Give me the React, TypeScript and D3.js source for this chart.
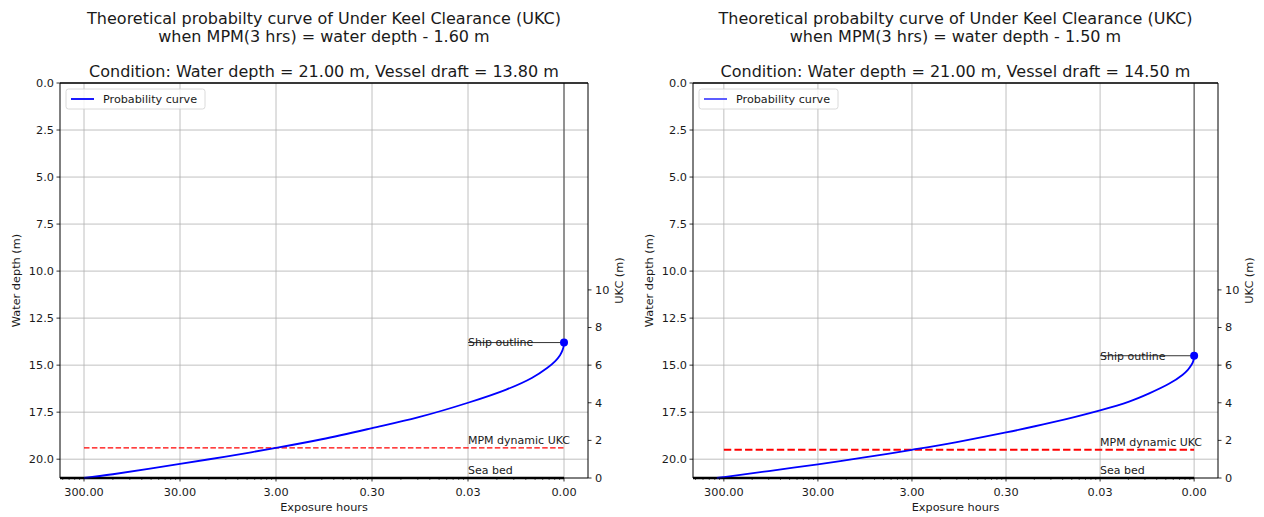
import React from "react";
import * as d3 from "d3";

// ---------- data ----------
const titleLine1 = "Theoretical probabilty curve of Under Keel Clearance (UKC)";
const waterDepths = [21.0, 21.0];
const vesselDrafts = [13.8, 14.5];
const mpmOffsets = [1.6, 1.5];

// Left panel curve (exposure hours, water depth m)
const leftExposure = [300, 150, 30, 10, 3, 1, 0.3, 0.1, 0.03, 0.012, 0.0065, 0.0045, 0.0037, 0.0033, 0.0031, 0.00302, 0.003];
const leftDepth = [21.0, 20.8, 20.25, 19.86, 19.4, 18.94, 18.35, 17.78, 17.0, 16.3, 15.68, 15.15, 14.78, 14.47, 14.19, 13.98, 13.8];

// Right panel curve
const rightExposure = [356, 300, 100, 30, 10, 3, 1, 0.3, 0.1, 0.03, 0.015, 0.009, 0.0055, 0.004, 0.0035, 0.0032, 0.0031, 0.00302, 0.003];
const rightDepth = [21.0, 20.95, 20.63, 20.27, 19.92, 19.5, 19.09, 18.58, 18.06, 17.4, 16.95, 16.5, 15.98, 15.52, 15.25, 14.98, 14.85, 14.66, 14.5];

const xTickValues = [300, 30, 3, 0.3, 0.03, 0.003];
const xTickLabels = ["300.00", "30.00", "3.00", "0.30", "0.03", "0.00"];
const depthTicks = [0, 2.5, 5, 7.5, 10, 12.5, 15, 17.5, 20];
const ukcTicks = [0, 2, 4, 6, 8, 10];
const labelExposure = 0.03;
const shipExposure = 0.003;
const mpmStartExposure = 300;

const FONT = "DejaVu Sans";
const TXT = "#1a1a1a";

type PanelProps = {
  x0: number; x1: number; y0: number; y1: number;
  exposure: number[]; depth: number[];
  water: number; draft: number; mpm: number;
  mpmWidth: number; mpmDash: string; legendColor: string;
};

function Panel(p: PanelProps) {
  const { x0, x1, y0, y1, exposure, depth, water, draft, mpm } = p;
  const lo = d3.min(exposure) as number;
  const hi = d3.max(exposure) as number;
  const m = Math.log10(hi / lo) * 0.05;
  const x = d3.scaleLog().domain([hi * 10 ** m, lo / 10 ** m]).range([x0, x1]);
  const y = d3.scaleLinear().domain([0, water]).range([y0, y1]);
  const yU = d3.scaleLinear().domain([water, 0]).range([y0, y1]);
  const [dA, dB] = x.domain();
  const inDom = (v: number) => v <= dA && v >= dB;
  const minor = [xTickValues[0] * 10, ...xTickValues]
    .flatMap((v) => d3.range(2, 10).map((k) => v / k))
    .filter(inDom);
  const pts: [number, number][] = exposure.map((e, i) => [e, depth[i]]);
  const line = d3
    .line<[number, number]>()
    .x((d) => x(d[0]))
    .y((d) => y(d[1]))
    .curve(d3.curveCatmullRom.alpha(0.5));
  const cx = (x0 + x1) / 2;
  const cy = (y0 + y1) / 2;
  const mpmDepth = water - mpm;
  const xs = x(shipExposure);
  const xl = x(labelExposure);
  return (
    <g fontFamily={FONT}>
      {/* titles */}
      <text x={cx} y={23.5} textAnchor="middle" fontSize={16} fill={TXT}>{titleLine1}</text>
      <text x={cx} y={42} textAnchor="middle" fontSize={16} fill={TXT}>
        {`when MPM(3 hrs) = water depth - ${mpm.toFixed(2)} m`}
      </text>
      <text x={cx} y={77} textAnchor="middle" fontSize={16} fill={TXT}>
        {`Condition: Water depth = ${water.toFixed(2)} m, Vessel draft = ${draft.toFixed(2)} m`}
      </text>
      {/* grid */}
      {xTickValues.map((v, i) => (
        <line key={"gx" + i} x1={x(v)} x2={x(v)} y1={y0} y2={y1} stroke="#b0b0b0" strokeWidth={0.8} />
      ))}
      {depthTicks.map((v, i) => (
        <line key={"gy" + i} x1={x0} x2={x1} y1={y(v)} y2={y(v)} stroke="#b0b0b0" strokeWidth={0.8} />
      ))}
      {/* MPM dashed */}
      <line x1={x(mpmStartExposure)} x2={xs} y1={y(mpmDepth)} y2={y(mpmDepth)} stroke="#ff0000" strokeWidth={p.mpmWidth} strokeDasharray={p.mpmDash} />
      {/* ship outline */}
      <line x1={xs} x2={xs} y1={y(0)} y2={y(draft)} stroke="#444" strokeWidth={1} />
      <line x1={xl} x2={xs} y1={y(draft)} y2={y(draft)} stroke="#333" strokeWidth={1} />
      {/* sea bed */}
      <line x1={x0} x2={xs} y1={y(water)} y2={y(water)} stroke="#000" strokeWidth={2.6} />
      {/* curve */}
      <path d={line(pts) as string} fill="none" stroke="#0000ff" strokeWidth={1.8} />
      <circle cx={xs} cy={y(draft)} r={4} fill="#0000ff" />
      {/* annotations */}
      <text x={xl} y={y(draft)} dy="0.35em" fontSize={11} fill={TXT}>Ship outline</text>
      <text x={xl} y={y(mpmDepth) - 4} fontSize={11} fill={TXT}>MPM dynamic UKC</text>
      <text x={xl} y={y(water) - 4} fontSize={11} fill={TXT}>Sea bed</text>
      {/* spines */}
      <line x1={x0} x2={x0} y1={y0} y2={y1} stroke="#000" strokeWidth={1} />
      <line x1={x1} x2={x1} y1={y0} y2={y1} stroke="#000" strokeWidth={1} />
      <line x1={x0} x2={x1} y1={y0} y2={y0} stroke="#000" strokeWidth={1.4} />
      <line x1={x0} x2={x1} y1={y1} y2={y1} stroke="#000" strokeWidth={1} />
      {/* left ticks */}
      {depthTicks.map((v, i) => (
        <g key={"ly" + i}>
          <line x1={x0 - 3.5} x2={x0} y1={y(v)} y2={y(v)} stroke="#000" strokeWidth={0.8} />
          <text x={x0 - 6} y={y(v)} dy="0.35em" textAnchor="end" fontSize={11.3} fill={TXT}>{v.toFixed(1)}</text>
        </g>
      ))}
      {/* right ticks */}
      {ukcTicks.map((v, i) => (
        <g key={"ry" + i}>
          <line x1={x1} x2={x1 + 3.5} y1={yU(v)} y2={yU(v)} stroke="#000" strokeWidth={0.8} />
          <text x={x1 + 7} y={yU(v)} dy="0.35em" textAnchor="start" fontSize={11.3} fill={TXT}>{v}</text>
        </g>
      ))}
      {/* x ticks */}
      {minor.map((v, i) => (
        <line key={"mx" + i} x1={x(v)} x2={x(v)} y1={y1} y2={y1 + 2} stroke="#000" strokeWidth={0.6} />
      ))}
      {xTickValues.map((v, i) => (
        <g key={"tx" + i}>
          <line x1={x(v)} x2={x(v)} y1={y1} y2={y1 + 3.5} stroke="#000" strokeWidth={0.8} />
          <text x={x(v)} y={y1 + 17.5} textAnchor="middle" fontSize={11.3} fill={TXT}>{xTickLabels[i]}</text>
        </g>
      ))}
      {/* axis labels */}
      <text x={cx} y={y1 + 33} textAnchor="middle" fontSize={11.3} fill={TXT}>Exposure hours</text>
      <text transform={`translate(${x0 - 40},${cy}) rotate(-90)`} textAnchor="middle" fontSize={11.3} fill={TXT}>Water depth (m)</text>
      <text transform={`translate(${x1 + 35},${cy}) rotate(-90)`} textAnchor="middle" fontSize={11.3} fill={TXT}>UKC (m)</text>
      {/* legend */}
      <rect x={x0 + 6} y={y0 + 6} width={139} height={20} rx={2.5} fill="#fff" fillOpacity={0.8} stroke="#d0d0d0" strokeWidth={0.8} />
      <line x1={x0 + 11} x2={x0 + 34} y1={y0 + 16} y2={y0 + 16} stroke={p.legendColor} strokeWidth={1.8} />
      <text x={x0 + 43} y={y0 + 20} fontSize={11.2} fill={TXT}>Probability curve</text>
    </g>
  );
}

export default function App() {
  return (
    <svg width={1264} height={517} style={{ position: "absolute", left: 0, top: 0, background: "#fff" }}>
      <rect width={1264} height={517} fill="#fff" />
      <Panel x0={60} x1={588} y0={83} y1={478} exposure={leftExposure} depth={leftDepth}
        water={waterDepths[0]} draft={vesselDrafts[0]} mpm={mpmOffsets[0]} mpmWidth={1.4} mpmDash="5.5,2.4" legendColor="#0000ff" />
      <Panel x0={693} x1={1218} y0={83} y1={478} exposure={rightExposure} depth={rightDepth}
        water={waterDepths[1]} draft={vesselDrafts[1]} mpm={mpmOffsets[1]} mpmWidth={2} mpmDash="7.4,3.2" legendColor="#4a4aff" />
    </svg>
  );
}
